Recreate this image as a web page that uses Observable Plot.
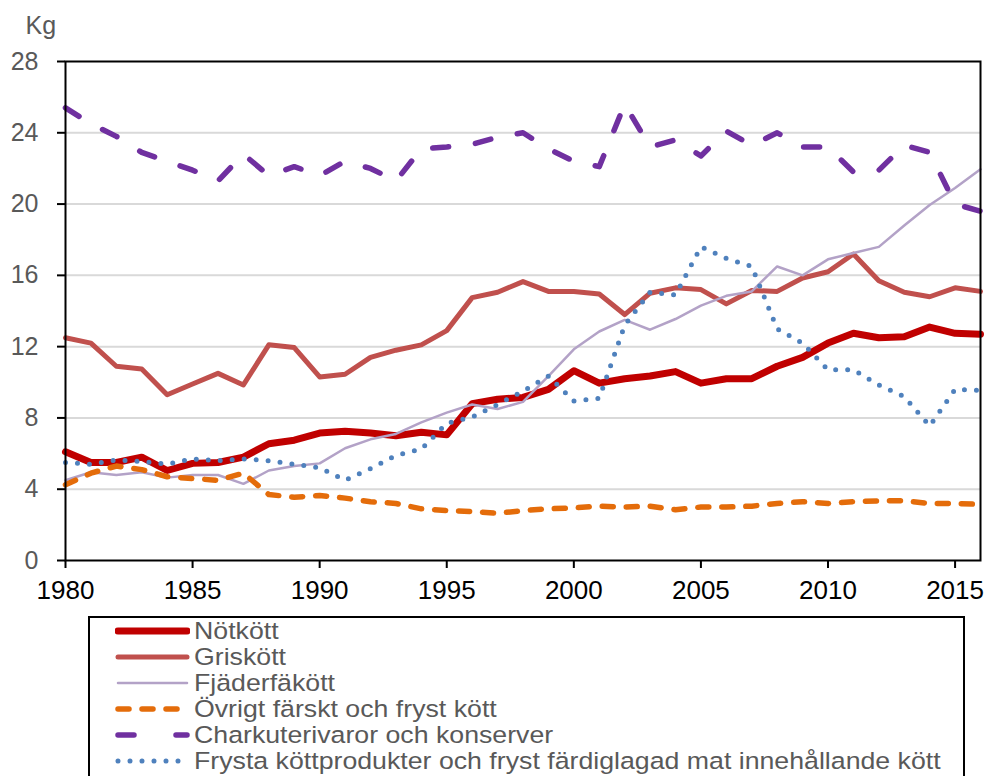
<!DOCTYPE html>
<html>
<head>
<meta charset="utf-8">
<script src="https://cdn.jsdelivr.net/npm/d3@7"></script>
<script src="https://cdn.jsdelivr.net/npm/@observablehq/plot@0.6"></script>
<style>
  body { margin: 0; background: white; font-family: "Liberation Sans", Arial, sans-serif; }
  #wrap { position: relative; width: 996px; height: 776px; overflow: hidden; }
  #legend { position: absolute; left: 88px; top: 616px; width: 873px; height: 200px;
            border: 2px solid #000; box-sizing: content-box; padding-top: 0px; }
  .row { height: 26px; display: flex; align-items: center; white-space: nowrap;
         font-size: 24.5px; color: #595959; line-height: 26px; }
  .row svg { margin-left: 25px; margin-right: 4px; flex: none; }
  .row span { display: inline-block; transform: scaleX(1.09); transform-origin: 0 50%; }
</style>
</head>
<body>
<div id="wrap"></div>
<script>
const years = d3.range(1980, 2017);
const yTicks = [0, 4, 8, 12, 16, 20, 24, 28];
const xTicks = [1980, 1985, 1990, 1995, 2000, 2005, 2010, 2015];
const seriesNames = [
  "Nötkött",
  "Griskött",
  "Fjäderfäkött",
  "Övrigt färskt och fryst kött",
  "Charkuterivaror och konserver",
  "Frysta köttprodukter och fryst färdiglagad mat innehållande kött"
];
const notkott = [6.1, 5.5, 5.5, 5.8, 5.05, 5.45, 5.5, 5.8, 6.55, 6.75, 7.15, 7.25, 7.15, 7.0, 7.2, 7.05, 8.8, 9.05, 9.15, 9.6, 10.65, 9.95, 10.2, 10.35, 10.6, 9.95, 10.2, 10.2, 10.9, 11.4, 12.2, 12.75, 12.5, 12.55, 13.1, 12.75, 12.7];
const griskott = [12.5, 12.2, 10.9, 10.75, 9.3, 9.9, 10.5, 9.85, 12.1, 11.95, 10.3, 10.45, 11.4, 11.8, 12.1, 12.9, 14.75, 15.05, 15.65, 15.1, 15.1, 14.95, 13.8, 15.0, 15.3, 15.2, 14.4, 15.15, 15.1, 15.85, 16.2, 17.2, 15.7, 15.05, 14.8, 15.3, 15.1];
const fjaderfa = [4.5, 4.95, 4.8, 4.95, 4.65, 4.8, 4.8, 4.3, 5.05, 5.3, 5.45, 6.3, 6.8, 7.1, 7.75, 8.3, 8.75, 8.5, 8.9, 10.35, 11.85, 12.85, 13.5, 12.95, 13.55, 14.3, 14.85, 15.1, 16.5, 16.0, 16.9, 17.25, 17.6, 18.8, 19.95, 20.9, 21.95];
const ovrigt = [4.25, 4.9, 5.3, 5.1, 4.7, 4.6, 4.5, 4.9, 3.7, 3.55, 3.65, 3.5, 3.3, 3.2, 2.9, 2.8, 2.75, 2.65, 2.8, 2.9, 2.95, 3.05, 3.0, 3.05, 2.85, 3.0, 3.0, 3.05, 3.2, 3.3, 3.2, 3.3, 3.35, 3.35, 3.2, 3.2, 3.15];
const charkuteri = [25.4, 24.5, 23.8, 22.9, 22.4, 21.9, 21.3, 22.8, 21.6, 22.1, 21.6, 22.4, 22.0, 21.3, 23.1, 23.2, 23.35, 23.75, 24.0, 23.1, 22.4, 22.1, 25.6, 23.2, 23.6, 22.7, 24.1, 23.3, 24.0, 23.2, 23.2, 21.8, 21.9, 23.3, 22.9, 20.0, 19.6];
const frysta = [5.5, 5.4, 5.65, 5.55, 5.4, 5.7, 5.6, 5.7, 5.6, 5.4, 5.2, 4.5, 5.15, 5.9, 6.25, 7.7, 8.05, 8.75, 9.5, 10.35, 8.95, 9.1, 13.2, 15.05, 14.9, 17.6, 16.95, 16.5, 13.0, 12.2, 10.7, 10.7, 9.85, 9.2, 7.55, 9.6, 9.55];

const seriesValues = [notkott, griskott, fjaderfa, ovrigt, charkuteri, frysta];
const styles = [
  {stroke: "#C00000", strokeWidth: 7},
  {stroke: "#C0504D", strokeWidth: 5},
  {stroke: "#B3A2C7", strokeWidth: 2.5},
  {stroke: "#E46C0A", strokeWidth: 5.5, strokeDasharray: "11,13"},
  {stroke: "#7030A0", strokeWidth: 5.5, strokeDasharray: "16,27"},
  {stroke: "#4F81BD", strokeWidth: 5, strokeDasharray: "0,12"}
];

const lineMarks = seriesValues.map((vals, k) =>
  Plot.line(vals.map((v, i) => ({year: years[i], value: v})), {
    x: "year", y: "value",
    strokeLinecap: "round", strokeLinejoin: "round",
    ...styles[k]
  })
);

const font = "'Liberation Sans', Arial, sans-serif";
const chart = Plot.plot({
  width: 996, height: 612,
  marginLeft: 65, marginRight: 16, marginTop: 61, marginBottom: 52,
  x: {domain: [1980, 2016]},
  y: {domain: [0, 28]},
  style: {fontFamily: font, background: "white", overflow: "visible"},
  marks: [
    Plot.gridY(yTicks.filter(t => t > 0 && t < 28), {stroke: "#D9D9D9", strokeOpacity: 1, strokeWidth: 2}),
    ...lineMarks,
    Plot.frame({stroke: "black", strokeWidth: 2}),
    Plot.axisY(yTicks, {tickSize: 8, tickPadding: 19, stroke: "black", strokeWidth: 2, fill: "#595959", fontSize: 25, tickFormat: "d", label: null}),
    Plot.axisX(xTicks, {tickSize: 8, tickPadding: 12, stroke: "black", strokeWidth: 2, fill: "black", fontSize: 26, tickFormat: "d", label: null}),
    Plot.text(["Kg"], {frameAnchor: "top-left", text: d => d, dx: -40, dy: -36, textAnchor: "start", lineAnchor: "middle", fill: "#595959", fontSize: 25})
  ]
});
const wrap = document.getElementById("wrap");
wrap.appendChild(chart);

const legend = document.createElement("div");
legend.id = "legend";
seriesNames.forEach((name, k) => {
  const row = document.createElement("div");
  row.className = "row";
  const s = styles[k];
  const ns = "http://www.w3.org/2000/svg";
  const svg = document.createElementNS(ns, "svg");
  svg.setAttribute("width", 75);
  svg.setAttribute("height", 26);
  const ln = document.createElementNS(ns, "line");
  ln.setAttribute("x1", 3); ln.setAttribute("x2", 72);
  ln.setAttribute("y1", 13); ln.setAttribute("y2", 13);
  ln.setAttribute("stroke", s.stroke);
  ln.setAttribute("stroke-width", s.strokeWidth);
  ln.setAttribute("stroke-linecap", "round");
  if (s.strokeDasharray) ln.setAttribute("stroke-dasharray", k === 4 ? "16,42" : s.strokeDasharray);
  svg.appendChild(ln);
  row.appendChild(svg);
  const span = document.createElement("span");
  span.textContent = name;
  row.appendChild(span);
  legend.appendChild(row);
});
wrap.appendChild(legend);
</script>
</body>
</html>
